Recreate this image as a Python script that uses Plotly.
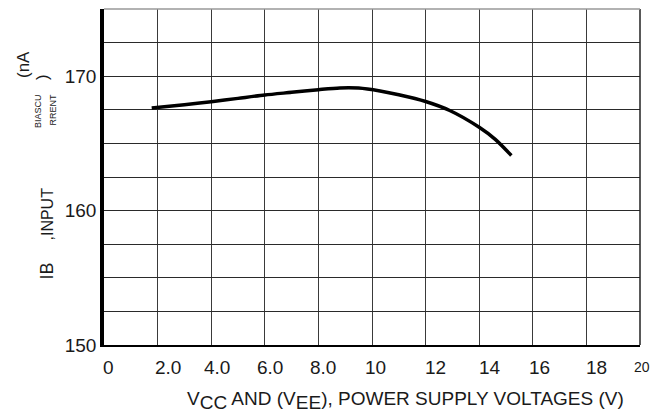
import plotly.graph_objects as go

# Data
supply_v = [1.78, 3.0, 4.0, 5.0, 6.0, 7.0, 8.0, 8.8, 9.5, 10.3, 11.0, 12.0, 12.9, 14.0, 14.6, 15.2]
bias_na = [167.63, 167.88, 168.1, 168.35, 168.6, 168.8, 169.0, 169.13, 169.12, 168.9, 168.62, 168.12, 167.45, 166.2, 165.3, 164.1]

x_tick_vals = [0, 2, 4, 6, 8, 10, 12, 14, 16, 18, 20]
x_tick_text = ["0", "2.0", "4.0", "6.0", "8.0", "10", "12", "14", "16", "18", "20"]
y_tick_vals = [150, 152.5, 155, 157.5, 160, 162.5, 165, 167.5, 170, 172.5, 175]
y_tick_text = ["150", "", "", "", "160", "", "", "", "170", "", ""]

FONT = "Liberation Sans, Arial, sans-serif"
OFF = 8  # page body margin
PL, PT, PR, PB = 104, 9, 640, 345  # plot area in page pixels
W, H = 661 - OFF, 415 - OFF

fig = go.Figure()
fig.add_trace(go.Scatter(x=supply_v, y=bias_na, mode="lines",
                         line=dict(color="black", width=3.5, shape="spline", smoothing=0.8),
                         showlegend=False, hoverinfo="skip"))

# x tick labels placed as annotations (individual offsets as in reference)
x_shifts = [4, 10, 6, 5, 5, 3, 10, 11, 7, 10, 2]
for v, t, s in zip(x_tick_vals, x_tick_text, x_shifts):
    fig.add_annotation(x=v, y=0, xref="x", yref="paper", text=t, showarrow=False,
                       xanchor="center", yanchor="middle", yshift=-22, xshift=s,
                       font=dict(family=FONT, size=14 if t == "20" else 19, color="#1a1a1a"))

sub = "<sub><span style='font-size:19px'>{}</span></sub>"
fig.add_annotation(x=0, y=0, xref="paper", yref="paper",
                   text="V" + sub.format("CC") + " AND (V" + sub.format("EE") +
                        "), POWER SUPPLY VOLTAGES (V)",
                   showarrow=False, xanchor="center", yanchor="middle",
                   yshift=-(400 - PB), xshift=405 - PL,
                   font=dict(family=FONT, size=19, color="#1a1a1a"))

def ytitle(text, px, py, size):
    fig.add_annotation(x=0, y=(PB - py) / (PB - PT), xref="paper", yref="paper", text=text,
                       showarrow=False, textangle=-90, xanchor="center", yanchor="middle",
                       xshift=px - PL, font=dict(family=FONT, size=size, color="#1a1a1a"))

ytitle("(nA", 24, 65, 17)
ytitle(")", 43, 77, 17)
ytitle("BIASCU", 38, 111, 9)
ytitle("RRENT", 52.5, 110, 9)
ytitle(",INPUT", 46.5, 214, 16)
ytitle("IB", 46.5, 271, 18)

fig.update_layout(
    width=W, height=H,
    margin=dict(l=PL - OFF, r=661 - PR, t=PT - OFF, b=415 - PB, pad=0),
    paper_bgcolor="white", plot_bgcolor="white",
    xaxis=dict(range=[0, 20], tickvals=x_tick_vals, showticklabels=False, ticks="",
               showgrid=True, gridcolor="#3a3a3a", gridwidth=1.3,
               showline=True, linecolor="black", linewidth=2,
               zeroline=False, fixedrange=True),
    yaxis=dict(range=[150, 175], showgrid=True,
               gridcolor="#2a2a2a", gridwidth=1.3,
               tickvals=y_tick_vals, ticktext=y_tick_text,
               ticks="", tickfont=dict(family=FONT, size=19, color="#1a1a1a"),
               showline=True, linecolor="black", linewidth=3.5,
               zeroline=False, fixedrange=True),
)
fig.add_shape(type="line", xref="paper", yref="paper", x0=1, x1=1, y0=0, y1=1,
              line=dict(color="#222", width=1.5))
fig.add_shape(type="line", xref="paper", yref="paper", x0=0, x1=1, y0=1, y1=1,
              line=dict(color="#999", width=1.5))

fig.write_html("out.html")
